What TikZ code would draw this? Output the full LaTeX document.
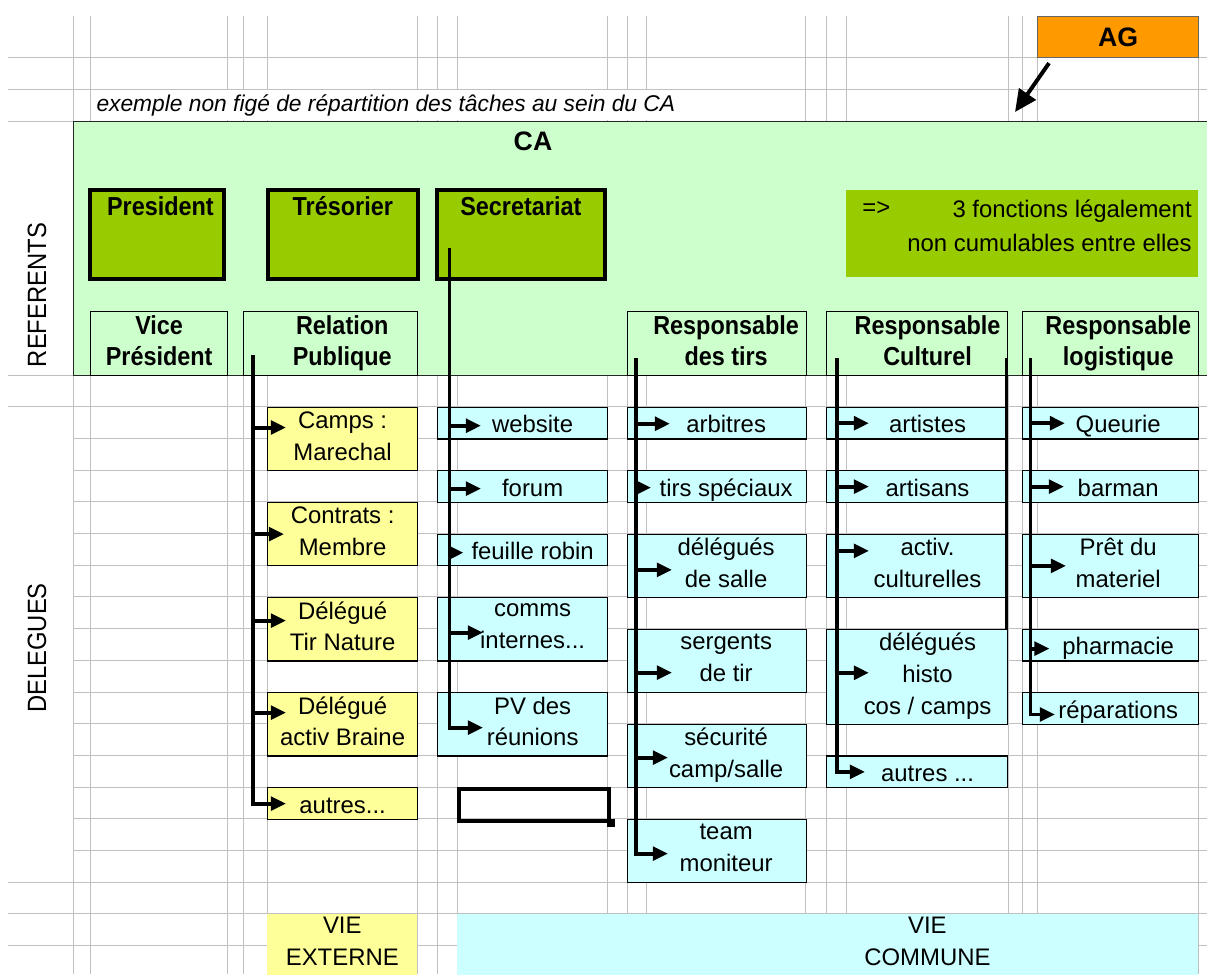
\documentclass[tikz,border=0pt]{standalone}
\usepackage{fontspec}
\setmainfont{Liberation Sans}
\newfontfamily\narrowfont[FakeStretch=0.9]{Liberation Sans}
\usetikzlibrary{positioning, calc, arrows.meta}

\definecolor{gridgray}{RGB}{192,192,192}
\definecolor{cagreen}{RGB}{204,255,204}
\definecolor{refgreen}{RGB}{153,204,0}
\definecolor{agorange}{RGB}{255,153,0}
\definecolor{cellyellow}{RGB}{255,255,153}
\definecolor{cellcyan}{RGB}{204,255,255}

\newcommand{\celltext}{\fontsize{17}{22.55}\selectfont}
\newcommand{\headtext}{\narrowfont\bfseries\fontsize{18.5}{22.55}\selectfont}
\newcommand{\sidetext}{\narrowfont\fontsize{18.8}{22}\selectfont}
\newcommand{\titletext}{\bfseries\fontsize{19}{22}\selectfont}
\newcommand{\rowstrut}{\rule[-4.45pt]{0pt}{22.55pt}}

\tikzset{
  gridline/.style={draw=gridgray, line width=0.6pt},
  bw/.style={minimum width=#1*0.025cm},
  bh/.style={minimum height=#1*0.025cm},
  rows/.style={minimum height=#1*0.7925cm},
  cell/.style={draw=black, line width=0.9pt, inner sep=0pt, anchor=north west},
  ycell/.style={cell, fill=cellyellow},
  ccell/.style={cell, fill=cellcyan},
  hcell/.style={cell, fill=cagreen, bh=64},
  refbox/.style={draw=black, line width=2.6pt, fill=refgreen, inner sep=0pt, anchor=north west, bh=89},
  txt/.style={align=center, font=\celltext, inner sep=0pt,
              execute at begin node=\rowstrut, execute at end node=\rowstrut},
  hd/.style={align=center, font=\headtext, inner sep=0pt,
             execute at begin node=\rowstrut, execute at end node=\rowstrut},
  trunk/.style={line width=2.8pt},
  branch/.style={trunk, -{Triangle[length=0.38cm,width=0.34cm]}},
}

\begin{document}
\begin{tikzpicture}[x=0.025cm, y=-0.025cm]

    \fill[white] (0,0) rectangle (1207,974);
    \useasboundingbox (0,0) rectangle (1207,974);

    % sheet grid
    \foreach \x in {73,90,227,243,267,417,437,457,607,627,646,805,826,846,1008,1022,1037,1198}
        \draw[gridline] (\x,16) -- (\x,974);
    \foreach \y in {57.6,89.3,121,375,406.7,882.2,913.9,945.6}
        \draw[gridline] (8,\y) -- (1207,\y);
    \foreach \r in {2,...,15}
        \draw[gridline] (73,375+\r*31.7) -- (1207,375+\r*31.7);

    \node[fill=white, anchor=west, inner xsep=3pt, inner ysep=0pt, minimum height=0.74cm,
          font=\itshape\fontsize{16.2}{20}\selectfont] (intro) at (92,105)
          {exemple non figé de répartition des tâches au sein du CA};

    % CA block
    \node[fill=cagreen, draw=black!85, line width=0.9pt, anchor=north west, bw=1145, bh=254, inner sep=0pt] (ca) at (73,121) {};
    \node[font=\titletext, inner sep=0pt] (catitle) at (533,141) {CA};
    \node[font=\sidetext, rotate=90, inner sep=0pt] (refs) at (37,295) {REFERENTS};
    \node[font=\sidetext, rotate=90, inner sep=0pt] (dels) at (37,648) {DELEGUES};

    % AG
    \node[fill=agorange, draw=black!60, line width=0.8pt, anchor=north west, bw=161, bh=41,
          font=\titletext, inner sep=0pt] (ag) at (1037,16) {AG};
    \coordinate (catop) at (1015,112);
    \draw[line width=2.8pt, -{Triangle[length=0.55cm,width=0.5cm]}] ([shift={(12,5)}]ag.south west) -- (catop);

    % referents
    \node[refbox, bw=134, label={[hd,yshift=0.70cm,xshift=0.09cm]center:President}] (pres) at (88,188) {};
    \node[refbox, bw=150, label={[hd,yshift=0.70cm]center:Trésorier}] (tres) at (266,188) {};
    \node[refbox, bw=168, label={[hd,yshift=0.70cm]center:Secretariat}] (secr) at (435,188) {};

    \node[fill=refgreen, anchor=north west, bw=352, bh=87, inner sep=0pt] (note) at (846,190) {};
    \node[font=\celltext, anchor=west, inner sep=0pt] (noteA) at (862,209) {=>};
    \node[font=\fontsize{17}{24.2}\selectfont, align=right, anchor=east, inner sep=0pt] (noteB) at (1192,226)
          {3 fonctions légalement\\non cumulables entre elles};

    \node[hcell, bw=137, label={[hd]center:{Vice\\Président}}] (vp) at (90,311) {};
    \node[hcell, bw=174, label={[hd,xshift=0.29cm]center:{Relation\\Publique}}] (rp) at (243,311) {};
    \node[hcell, bw=179, label={[hd,xshift=0.225cm]center:{Responsable\\des tirs}}] (rt) at (627,311) {};
    \node[hcell, bw=181, label={[hd,xshift=0.26cm]center:{Responsable\\Culturel}}] (rc) at (826,311) {};
    \node[hcell, bw=176, label={[hd,xshift=0.19cm]center:{Responsable\\logistique}}] (rl) at (1022,311) {};

    % delegues: relation publique
    \node[ycell, bw=150, rows=2, label={[txt]center:{Camps :\\Marechal}}] (camps) at (267,406.7) {};
    \node[ycell, bw=150, rows=2, label={[txt]center:{Contrats :\\Membre}}] (contr) at (267,501.8) {};
    \node[ycell, bw=150, rows=2, label={[txt]center:{Délégué\\Tir Nature}}] (tirnat) at (267,596.9) {};
    \node[ycell, bw=150, rows=2, label={[txt]center:{Délégué\\activ Braine}}] (braine) at (267,692.0) {};
    \node[ycell, bw=150, rows=1, label={[txt]center:{autres...}}] (autrp) at (267,787.1) {};

    % secretariat
    \node[ccell, bw=170, rows=1, label={[txt,xshift=0.25cm]center:website}] (web) at (437,406.7) {};
    \node[ccell, bw=170, rows=1, label={[txt,xshift=0.25cm]center:forum}] (forum) at (437,470.1) {};
    \node[ccell, bw=170, rows=1, label={[txt,xshift=0.25cm]center:feuille robin}] (feuil) at (437,533.5) {};
    \node[ccell, bw=170, rows=2, label={[txt,xshift=0.25cm]center:{comms\\internes...}}] (comms) at (437,596.9) {};
    \node[ccell, bw=170, rows=2, label={[txt,xshift=0.25cm]center:{PV des\\réunions}}] (pv) at (437,692.0) {};

    % tirs
    \node[ccell, bw=179, rows=1, label={[txt,xshift=0.225cm]center:arbitres}] (arb) at (627,406.7) {};
    \node[ccell, bw=179, rows=1, label={[txt,xshift=0.225cm]center:tirs spéciaux}] (spec) at (627,470.1) {};
    \node[ccell, bw=179, rows=2, label={[txt,xshift=0.225cm]center:{délégués\\de salle}}] (salle) at (627,533.5) {};
    \node[ccell, bw=179, rows=2, label={[txt,xshift=0.225cm]center:{sergents\\de tir}}] (serg) at (627,628.6) {};
    \node[ccell, bw=179, rows=2, label={[txt,xshift=0.225cm]center:{sécurité\\camp/salle}}] (secu) at (627,723.7) {};
    \node[ccell, bw=179, rows=2, label={[txt,xshift=0.225cm]center:{team\\moniteur}}] (team) at (627,818.8) {};

    % culturel
    \node[ccell, bw=181, rows=1, label={[txt,xshift=0.26cm]center:artistes}] (arti) at (826,406.7) {};
    \node[ccell, bw=181, rows=1, label={[txt,xshift=0.26cm]center:artisans}] (artis) at (826,470.1) {};
    \node[ccell, bw=181, rows=2, label={[txt,xshift=0.26cm]center:{activ.\\culturelles}}] (activ) at (826,533.5) {};
    \node[ccell, bw=181, rows=3, label={[txt,xshift=0.26cm]center:{délégués\\histo\\cos / camps}}] (histo) at (826,628.6) {};
    \node[ccell, bw=181, rows=1, label={[txt,xshift=0.26cm]center:{autres ...}}] (autc) at (826,755.4) {};

    % logistique
    \node[ccell, bw=176, rows=1, label={[txt,xshift=0.19cm]center:Queurie}] (queu) at (1022,406.7) {};
    \node[ccell, bw=176, rows=1, label={[txt,xshift=0.19cm]center:barman}] (barm) at (1022,470.1) {};
    \node[ccell, bw=176, rows=2, label={[txt,xshift=0.19cm]center:{Prêt du\\materiel}}] (pret) at (1022,533.5) {};
    \node[ccell, bw=176, rows=1, label={[txt,xshift=0.19cm]center:pharmacie}] (pharm) at (1022,628.6) {};
    \node[ccell, bw=176, rows=1, label={[txt,xshift=0.19cm]center:réparations}] (repar) at (1022,692.0) {};

    % selected cell
    \node[draw=black, line width=2.9pt, anchor=north west, bw=150, rows=1, inner sep=0pt] (sel) at (457,787.1) {};
    \node[fill=black, inner sep=0pt, minimum size=0.19cm] (selh) at (sel.south east) {};

    % bottom bands
    \node[fill=cellyellow, anchor=north west, bw=150, bh=61, inner sep=0pt,
          label={[txt]center:{VIE\\EXTERNE}}] (vext) at (267,913.9) {};
    \node[fill=cellcyan, anchor=north west, bw=741, bh=61, inner sep=0pt,
          label={[txt,xshift=2.49cm]center:{VIE\\COMMUNE}}] (vcom) at (457,913.9) {};

    % links
    \coordinate (rpTop) at (253,355);
    \coordinate (secTop) at (449.5,248);
    \coordinate (tirTop) at (636,358);
    \coordinate (culTop) at (837,358);
    \coordinate (culTopB) at (1006.5,358);
    \coordinate (logTop) at (1030.5,358);

    \draw[branch] (rpTop) -- (rpTop |- autrp.west) -- ++(33,0);
    \draw[branch] ($(rpTop |- camps.west)+(0,-11.5)$) -- ++(33,0);
    \draw[branch] (rpTop |- contr.west) -- ++(31,0);
    \draw[branch] ($(rpTop |- tirnat.west)+(0,-8.6)$) -- ++(33,0);
    \draw[branch] ($(rpTop |- braine.west)+(0,-11.7)$) -- ++(33,0);

    \draw[branch] (secTop) -- ($(secTop |- pv.west)+(0,3.3)$) -- ++(33.5,0);
    \draw[branch] ($(secTop |- web.west)+(0,2.5)$) -- ++(31.5,0);
    \draw[branch] ($(secTop |- forum.west)+(0,2)$) -- ++(31.5,0);
    \draw[branch] ($(secTop |- feuil.west)+(0,2.7)$) -- ++(14,0);
    \draw[branch] ($(secTop |- comms.west)+(0,3.4)$) -- ++(33.5,0);

    \draw[branch] (tirTop) -- ($(tirTop |- team.west)+(0,2.5)$) -- ++(32,0);
    \draw[branch] ($(tirTop |- arb.west)+(0,0.5)$) -- ++(34,0);
    \draw[branch] ($(tirTop |- spec.west)+(0,1)$) -- ++(15,0);
    \draw[branch] ($(tirTop |- salle.west)+(0,4)$) -- ++(36,0);
    \draw[branch] ($(tirTop |- serg.west)+(0,11.7)$) -- ++(36,0);
    \draw[branch] ($(tirTop |- secu.west)+(0,1.6)$) -- ++(32,0);

    \draw[branch] (culTop) -- (culTop |- autc.west) -- ++(28,0);
    \draw[branch] (culTop |- arti.west) -- ++(32,0);
    \draw[branch] (culTop |- artis.west) -- ++(32,0);
    \draw[branch] ($(culTop |- activ.west)+(0,-15)$) -- ++(32,0);
    \draw[branch] ($(culTop |- histo.west)+(0,-4)$) -- ++(32,0);
    \draw[trunk] (culTopB) -- (culTopB |- histo.north);

    \draw[branch] (logTop) -- ($(logTop |- repar.west)+(0,6)$) -- ++(24.5,0);
    \draw[branch] (logTop |- queu.west) -- ++(34.5,0);
    \draw[branch] (logTop |- barm.west) -- ++(33.5,0);
    \draw[branch] (logTop |- pret.west) -- ++(35.5,0);
    \draw[branch] ($(logTop |- pharm.west)+(0,3.5)$) -- ++(19,0);
\end{tikzpicture}
\end{document}
